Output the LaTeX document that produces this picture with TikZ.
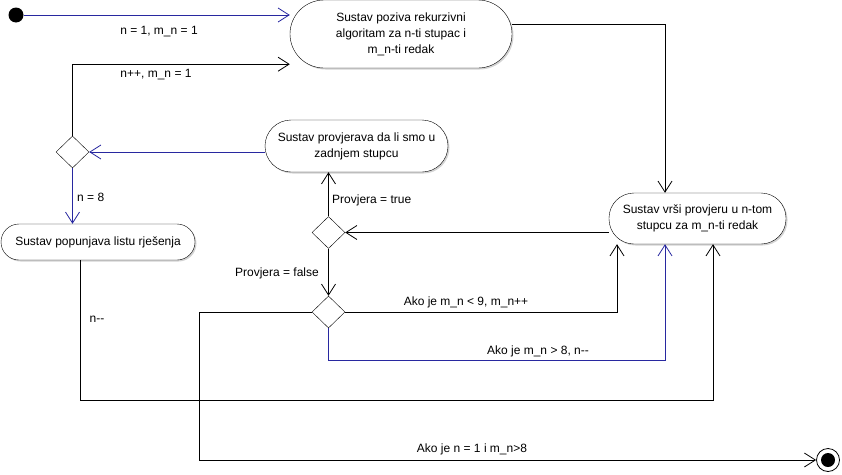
\documentclass[tikz,border=0pt]{standalone}
\usepackage{fontspec}
\setmainfont{Liberation Sans}
\usetikzlibrary{arrows.meta,shapes.geometric,shadows}
\definecolor{veza}{RGB}{40,40,160}
\tikzset{
  radnja/.style={draw,fill=white,align=center,inner sep=2pt,
    font=\fontsize{12}{16}\selectfont,
    drop shadow={shadow xshift=1.5pt,shadow yshift=-1.5pt,opacity=0.35}},
  odluka/.style={draw,diamond,fill=white,inner sep=0pt,minimum width=33,minimum height=32},
  oznaka/.style={font=\fontsize{12}{16}\selectfont,inner sep=1pt},
  tok/.style={line width=0.8pt,-{Straight Barb[length=11pt,width=14pt]}},
  plavi/.style={tok,draw=veza}
}
\begin{document}
\begin{tikzpicture}[x=1pt,y=-1pt]
      \useasboundingbox (0,0) rectangle (842,474);

      \node[circle,fill=black,minimum size=15,inner sep=0pt] (pocetak) at (16,15) {};
      \node[radnja,minimum width=222,minimum height=68,rounded corners=34] (poziv) at (401,34)
        {Sustav poziva rekurzivni\\algoritam za n-ti stupac i\\m\_n-ti redak};
      \node[radnja,minimum width=183,minimum height=52,rounded corners=26] (zadnji) at (356.5,146)
        {Sustav provjerava da li smo u\\zadnjem stupcu};
      \node[radnja,minimum width=194,minimum height=36,rounded corners=18] (lista) at (98,242)
        {Sustav popunjava listu rješenja};
      \node[radnja,minimum width=177,minimum height=51,rounded corners=25] (provjera) at (697.5,218.5)
        {Sustav vrši provjeru u n-tom\\stupcu za m\_n-ti redak};
      \node[odluka] (d1) at (72.5,152) {};
      \node[odluka] (d2) at (328.5,232.5) {};
      \node[odluka] (d3) at (328.5,312) {};
      \node[circle,draw,line width=0.8pt,fill=white,minimum size=23,inner sep=0pt,
        path picture={\fill[black] (path picture bounding box.center) circle[radius=7pt];}] (kraj) at (828,460) {};

      \draw[plavi] (pocetak) -- (pocetak -| poziv.west);
      \draw[tok] ([yshift=10pt]poziv.east) -| ([xshift=-32.5pt]provjera.north);
      \draw[plavi] (d1 -| zadnji.west) -- (d1.east);
      \draw[tok] (d1.north) |- ([yshift=4pt]poziv.south west);
      \draw[plavi] (d1.south) -- (d1 |- lista.north);
      \draw[tok] (d2 -| provjera.west) -- (d2.east);
      \draw[tok] (d2.north) -- (d2 |- zadnji.south);
      \draw[tok] (d2.south) -- (d3.north);
      \draw[tok] (d3.east) -| ([xshift=-80.5pt]provjera.south);
      \draw[plavi] (d3.south) -- ++(0,32) -| ([xshift=-32.5pt]provjera.south);
      \draw[tok] ([xshift=-18pt]lista.south) -- ++(0,140) -| ([xshift=15.5pt]provjera.south);
      \draw[tok] (d3.west) -- ++(-112.5,0) |- (kraj);

      \node[oznaka] (l1) at (159,32) {n = 1, m\_n = 1};
      \node[oznaka] (l2) at (156,75) {n++, m\_n = 1};
      \node[oznaka,anchor=west] (l3) at (76,197) {n = 8};
      \node[oznaka,anchor=west] (l4) at (331,200) {Provjera = true};
      \node[oznaka,anchor=east] (l5) at (320,273) {Provjera = false};
      \node[oznaka] (l6) at (466,302) {Ako je m\_n < 9, m\_n++};
      \node[oznaka] (l7) at (538,351) {Ako je m\_n > 8, n-{}-};
      \node[oznaka] (l8) at (97,319) {n-{}-};
      \node[oznaka] (l9) at (472,449) {Ako je n = 1 i m\_n>8};
    \end{tikzpicture}
\end{document}
